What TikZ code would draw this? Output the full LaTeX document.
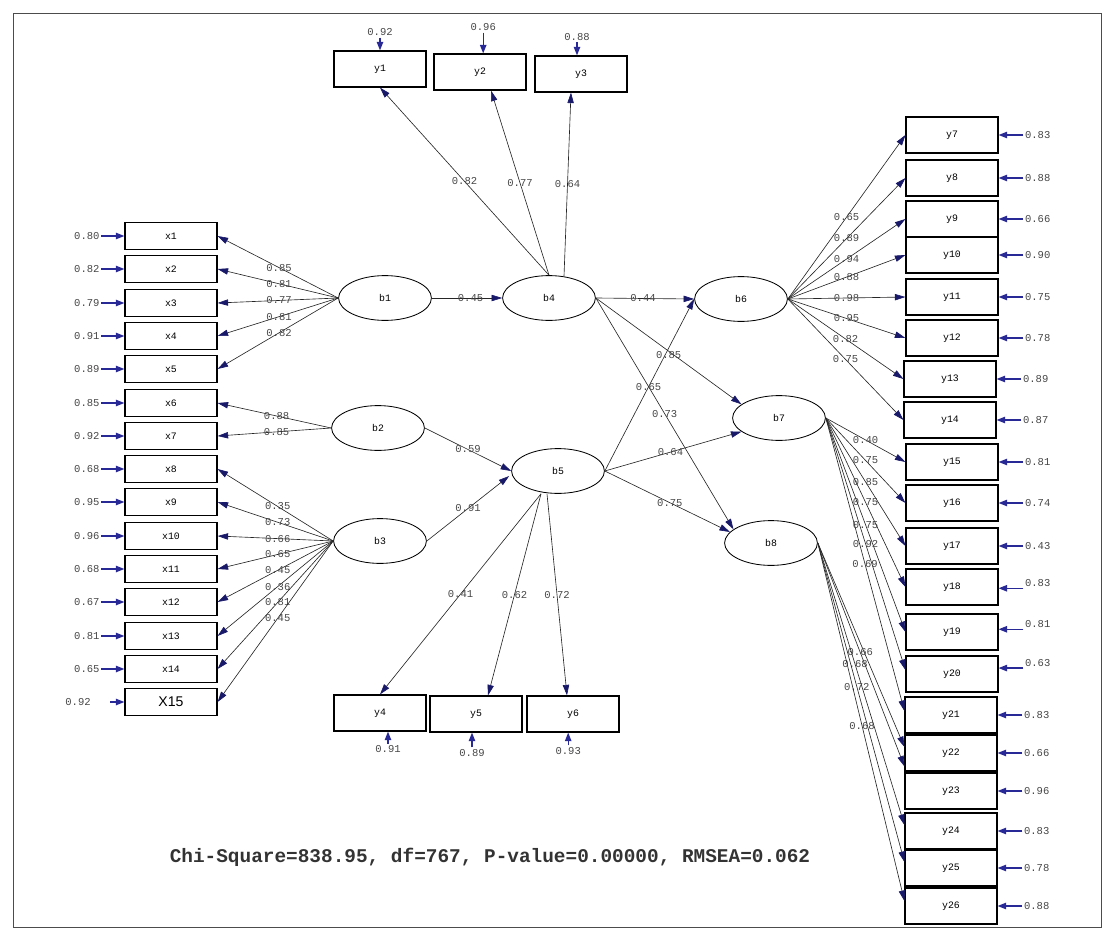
\documentclass[tikz,border=0pt]{standalone}
\usepackage{fontspec}
\setmonofont{Liberation Mono}
\setsansfont{Liberation Sans}
\usetikzlibrary{arrows.meta,positioning,shapes.geometric,calc}
\definecolor{pathnavy}{RGB}{25,25,105}
\definecolor{errnavy}{RGB}{40,40,150}
\definecolor{coefgray}{RGB}{70,70,70}

\begin{document}
\begin{tikzpicture}[
    x=0.025cm, y=-0.025cm,
    obsbox/.style={draw, line width=0.8pt, minimum width=2.3cm, minimum height=0.9cm,
        inner sep=0pt, font=\ttfamily\fontsize{7}{8}\selectfont},
    xbox/.style={obsbox, minimum height=0.66cm},
    latent/.style={ellipse, draw, line width=0.6pt, minimum width=2.32cm, minimum height=1.12cm,
        inner sep=0pt, font=\ttfamily\fontsize{7}{8}\selectfont},
    coef/.style={font=\ttfamily\fontsize{7.5}{8}\selectfont, text=coefgray, inner sep=0.5pt},
    errval/.style={coef, inner sep=1pt},
    arr/.style={-{Triangle[length=7.5pt, width=4.5pt, color=pathnavy]}, black!85, line width=0.45pt},
    err/.style={-{Triangle[length=6pt, width=4.5pt]}, errnavy, line width=0.9pt}
]
\useasboundingbox (0,0) rectangle (1113,940);
\draw[black!70, line width=0.6pt] (13,13) rectangle (1101,927);

% latent variables
\node[latent] (b1) at (385,298) {b1};
\node[latent] (b2) at (378,428) {b2};
\node[latent] (b3) at (380,541) {b3};
\node[latent] (b4) at (549,298) {b4};
\node[latent] (b5) at (558,471) {b5};
\node[latent] (b6) at (741,299) {b6};
\node[latent] (b7) at (779,418) {b7};
\node[latent] (b8) at (771,543) {b8};

% x indicators
\node[xbox] (x1) at (171,236) {x1};
\node[xbox] (x2) at (171,269) {x2};
\node[xbox] (x3) at (171,303) {x3};
\node[xbox] (x4) at (171,336) {x4};
\node[xbox] (x5) at (171,369) {x5};
\node[xbox] (x6) at (171,403) {x6};
\node[xbox] (x7) at (171,436) {x7};
\node[xbox] (x8) at (171,469) {x8};
\node[xbox] (x9) at (171,502) {x9};
\node[xbox] (x10) at (171,536) {x10};
\node[xbox] (x11) at (171,569) {x11};
\node[xbox] (x12) at (171,602) {x12};
\node[xbox] (x13) at (171,636) {x13};
\node[xbox] (x14) at (171,669) {x14};
\node[xbox, font=\sffamily\fontsize{10}{11}\selectfont] (x15) at (171,702) {X15};

\node[errval, left=0.58cm of x1] (ex1) {0.80};
\node[errval, left=0.58cm of x2] (ex2) {0.82};
\node[errval, left=0.58cm of x3] (ex3) {0.79};
\node[errval, left=0.58cm of x4] (ex4) {0.91};
\node[errval, left=0.58cm of x5] (ex5) {0.89};
\node[errval, left=0.58cm of x6] (ex6) {0.85};
\node[errval, left=0.58cm of x7] (ex7) {0.92};
\node[errval, left=0.58cm of x8] (ex8) {0.68};
\node[errval, left=0.58cm of x9] (ex9) {0.95};
\node[errval, left=0.58cm of x10] (ex10) {0.96};
\node[errval, left=0.58cm of x11] (ex11) {0.68};
\node[errval, left=0.58cm of x12] (ex12) {0.67};
\node[errval, left=0.58cm of x13] (ex13) {0.81};
\node[errval, left=0.58cm of x14] (ex14) {0.65};
\node[errval, left=0.8cm of x15] (ex15) {0.92};
\coordinate (ex15s) at ($(x15.west)+(-14,0)$);

% y indicators, top and bottom
\node[obsbox] (y1) at (380,69) {y1};
\node[obsbox] (y2) at (480,72) {y2};
\node[obsbox] (y3) at (581,74) {y3};
\node[errval, above=0.32cm of y1] (ey1) {0.92};
\node[errval, above=0.52cm of y2, xshift=0.08cm] (ey2) {0.96};
\node[errval, above=0.34cm of y3, xshift=-0.1cm] (ey3) {0.88};

\node[obsbox] (y4) at (380,713) {y4};
\node[obsbox] (y5) at (476,714) {y5};
\node[obsbox] (y6) at (573,714) {y6};
\node[errval, below=0.3cm of y4, xshift=0.2cm] (ey4) {0.91};
\node[errval, below=0.37cm of y5, xshift=-0.1cm] (ey5) {0.89};
\node[errval, below=0.32cm of y6, xshift=-0.12cm] (ey6) {0.93};

% y indicators, right
\node[obsbox] (y7) at (952,135) {y7};
\node[obsbox] (y8) at (952,178) {y8};
\node[obsbox] (y9) at (952,219) {y9};
\node[obsbox] (y10) at (952,255) {y10};
\node[obsbox] (y11) at (952,297) {y11};
\node[obsbox] (y12) at (952,338) {y12};
\node[obsbox] (y13) at (950,379) {y13};
\node[obsbox] (y14) at (950,420) {y14};
\node[obsbox] (y15) at (952,462) {y15};
\node[obsbox] (y16) at (952,503) {y16};
\node[obsbox] (y17) at (952,546) {y17};
\node[obsbox] (y18) at (952,587) {y18};
\node[obsbox] (y19) at (952,632) {y19};
\node[obsbox] (y20) at (952,674) {y20};
\node[obsbox] (y21) at (951,715) {y21};
\node[obsbox] (y22) at (951,753) {y22};
\node[obsbox] (y23) at (951,791) {y23};
\node[obsbox] (y24) at (951,831) {y24};
\node[obsbox] (y25) at (951,868) {y25};
\node[obsbox] (y26) at (951,906) {y26};

\node[errval, right=0.62cm of y7] (ey7) {0.83};
\node[errval, right=0.62cm of y8] (ey8) {0.88};
\node[errval, right=0.62cm of y9] (ey9) {0.66};
\node[errval, right=0.62cm of y10] (ey10) {0.90};
\node[errval, right=0.62cm of y11] (ey11) {0.75};
\node[errval, right=0.62cm of y12] (ey12) {0.78};
\node[errval, right=0.62cm of y13] (ey13) {0.89};
\node[errval, right=0.62cm of y14] (ey14) {0.87};
\node[errval, right=0.62cm of y15] (ey15) {0.81};
\node[errval, right=0.62cm of y16] (ey16) {0.74};
\node[errval, right=0.62cm of y17] (ey17) {0.43};
\node[errval, right=0.62cm of y18, yshift=0.1cm] (ey18) {0.83};
\node[errval, right=0.62cm of y19, yshift=0.2cm] (ey19) {0.81};
\node[errval, right=0.62cm of y20, yshift=0.28cm] (ey20) {0.63};
\node[errval, right=0.62cm of y21] (ey21) {0.83};
\node[errval, right=0.62cm of y22] (ey22) {0.66};
\node[errval, right=0.62cm of y23] (ey23) {0.96};
\node[errval, right=0.62cm of y24] (ey24) {0.83};
\node[errval, right=0.62cm of y25] (ey25) {0.78};
\node[errval, right=0.62cm of y26] (ey26) {0.88};

% error arrows
\draw[err] (ex1) -- (x1);
\draw[err] (ex2) -- (x2);
\draw[err] (ex3) -- (x3);
\draw[err] (ex4) -- (x4);
\draw[err] (ex5) -- (x5);
\draw[err] (ex6) -- (x6);
\draw[err] (ex7) -- (x7);
\draw[err] (ex8) -- (x8);
\draw[err] (ex9) -- (x9);
\draw[err] (ex10) -- (x10);
\draw[err] (ex11) -- (x11);
\draw[err] (ex12) -- (x12);
\draw[err] (ex13) -- (x13);
\draw[err] (ex14) -- (x14);
\draw[err] (ex15s) -- (x15);
\draw[err] (ey1) -- (ey1 |- y1.north);
\draw[err] (ey2) -- (ey2 |- y2.north);
\draw[err] (ey3) -- (ey3 |- y3.north);
\draw[err] (ey4) -- (ey4 |- y4.south);
\draw[err] (ey5) -- (ey5 |- y5.south);
\draw[err] (ey6) -- (ey6 |- y6.south);
\draw[err] (ey7) -- (y7);
\draw[err] (ey8) -- (y8);
\draw[err] (ey9) -- (y9);
\draw[err] (ey10) -- (y10);
\draw[err] (ey11) -- (y11);
\draw[err] (ey12) -- (y12);
\draw[err] (ey13) -- (y13);
\draw[err] (ey14) -- (y14);
\draw[err] (ey15) -- (y15);
\draw[err] (ey16) -- (y16);
\draw[err] (ey17) -- (y17);
\draw[err] (ey18.south west) -- (ey18.south west -| y18.east);
\draw[err] (ey19.south west) -- (ey19.south west -| y19.east);
\draw[err] (ey20.south west) -- (ey20.south west -| y20.east);
\draw[err] (ey21) -- (y21);
\draw[err] (ey22) -- (y22);
\draw[err] (ey23) -- (y23);
\draw[err] (ey24) -- (y24);
\draw[err] (ey25) -- (y25);
\draw[err] (ey26) -- (y26);

% loadings on x
\draw[arr] (b1.west) -- node[coef, pos=0.49] {0.85} (x1.east);
\draw[arr] (b1.west) -- node[coef, pos=0.49] {0.81} (x2.east);
\draw[arr] (b1.west) -- node[coef, pos=0.49] {0.77} (x3.east);
\draw[arr] (b1.west) -- node[coef, pos=0.49] {0.81} (x4.east);
\draw[arr] (b1.west) -- node[coef, pos=0.49] {0.82} (x5.east);
\draw[arr] (b2.west) -- node[coef, pos=0.48] {0.88} (x6.east);
\draw[arr] (b2.west) -- node[coef, pos=0.48] {0.85} (x7.east);
\draw[arr] (b3.west) -- node[coef, pos=0.48] {0.35} (x8.east);
\draw[arr] (b3.west) -- node[coef, pos=0.48] {0.73} (x9.east);
\draw[arr] (b3.west) -- node[coef, pos=0.48] {0.66} (x10.east);
\draw[arr] (b3.west) -- node[coef, pos=0.48] {0.65} (x11.east);
\draw[arr] (b3.west) -- node[coef, pos=0.48] {0.45} (x12.east);
\draw[arr] (b3.west) -- node[coef, pos=0.48] {0.36} (x13.east);
\draw[arr] (b3.west) -- node[coef, pos=0.48] {0.81} (x14.east);
\draw[arr] (b3.west) -- node[coef, pos=0.48] {0.45} (x15.east);

% structural paths
\draw[arr] (b1.east) -- node[coef, pos=0.55] {0.45} (b4.west);
\draw[arr] (b2.east) -- node[coef] {0.59} (b5.west);
\draw[arr] (b3.east) -- node[coef] {0.91} ($(b5.west)+(-2,5)$);
\draw[arr] (b4.east) -- node[coef, pos=0.48] {0.44} (b6.west);
\draw[arr] (b4.east) -- node[coef, pos=0.5, yshift=-0.1cm] {0.85} (b7.160);
\draw[arr] (b4.east) -- node[coef, pos=0.5] {0.73} (b8.160);
\draw[arr] (b5.east) -- node[coef, pos=0.49] {0.65} (b6.west);
\draw[arr] (b5.east) -- node[coef, pos=0.48] {0.64} (b7.200);
\draw[arr] (b5.east) -- node[coef, pos=0.52] {0.75} (b8.165);

% loadings on y, top and bottom
\draw[arr] (b4.north) -- node[coef] {0.82} (y1.south);
\draw[arr] (b4.north) -- node[coef] {0.77} ($(y2.south)+(11,0)$);
\draw[arr] ($(b4.north)+(15,1)$) -- node[coef] {0.64} ($(y3.south)+(-10,0)$);
\draw[arr] ($(b5.south)+(-17,0)$) -- node[coef] {0.41} (y4.north);
\draw[arr] ($(b5.south)+(-17,0)$) -- node[coef] {0.62} ($(y5.north)+(12,0)$);
\draw[arr] ($(b5.south)+(-11,0)$) -- node[coef] {0.72} ($(y6.north)+(-6,0)$);

% loadings on y, right
\draw[arr] (b6.east) -- node[coef] {0.65} (y7.west);
\draw[arr] (b6.east) -- node[coef] {0.89} (y8.west);
\draw[arr] (b6.east) -- node[coef] {0.94} (y9.west);
\draw[arr] (b6.east) -- node[coef] {0.88} (y10.west);
\draw[arr] (b6.east) -- node[coef] {0.98} (y11.west);
\draw[arr] (b6.east) -- node[coef] {0.95} (y12.west);
\draw[arr] (b6.east) -- node[coef] {0.82} (y13.west);
\draw[arr] (b6.east) -- node[coef] {0.75} (y14.west);
\draw[arr] (b7.east) -- node[coef] {0.40} (y15.west);
\draw[arr] (b7.east) -- node[coef] {0.75} (y16.west);
\draw[arr] (b7.east) -- node[coef] {0.85} (y17.west);
\draw[arr] (b7.east) -- node[coef] {0.75} (y18.west);
\draw[arr] (b7.east) -- node[coef] {0.75} (y19.west);
\draw[arr] (b7.east) -- node[coef] {0.92} ($(y20.west)+(0,-4)$);
\draw[arr] (b7.east) -- node[coef] {0.69} ($(y21.west)+(0,-4)$);
\draw[arr] (b8.east) -- ($(y22.west)+(0,-6)$);
\draw[arr] (b8.east) -- node[coef, pos=0.49] {0.66} ($(y23.north west)+(0,-6)$);
\draw[arr] (b8.east) -- node[coef, pos=0.43] {0.68} ($(y24.west)+(0,-6)$);
\draw[arr] (b8.east) -- node[coef, pos=0.45] {0.72} ($(y25.west)+(0,-6)$);
\draw[arr] (b8.east) -- node[coef, pos=0.51] {0.68} ($(y26.west)+(0,-5)$);

\node[font=\ttfamily\bfseries\fontsize{13.8}{15}\selectfont, text=black!80] (gof) at (490,857)
    {Chi-Square=838.95, df=767, P-value=0.00000, RMSEA=0.062};
\end{tikzpicture}
\end{document}
